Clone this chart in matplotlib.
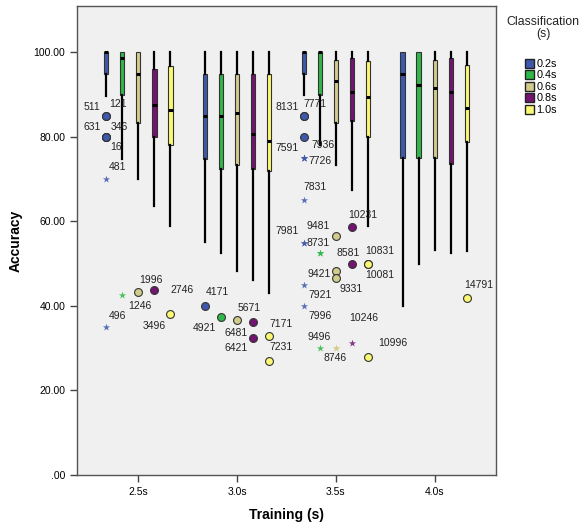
import numpy as np
import matplotlib.pyplot as plt
from matplotlib.patches import Patch

# categories
trainings = ['2.5s', '3.0s', '3.5s', '4.0s']
classes = ['0.2s', '0.4s', '0.6s', '0.8s', '1.0s']
colors = ['#3e58ac', '#2eb848', '#d2cc8c', '#741472', '#fbf873']

# box statistics, one list per class (one value per training group)
whishi = {
    '0.2s': [100, 100, 100, 100],
    '0.4s': [100, 100, 100, 100],
    '0.6s': [100, 100, 100, 100],
    '0.8s': [100, 100, 100, 100],
    '1.0s': [100, 100, 100, 100],
}
q3 = {
    '0.2s': [100, 95, 100, 100],
    '0.4s': [100, 95, 100, 100],
    '0.6s': [100, 95, 98.3, 98.3],
    '0.8s': [96.1, 95, 98.7, 98.7],
    '1.0s': [96.9, 95, 97.9, 97.0],
}
med = {
    '0.2s': [100, 84.9, 100, 95],
    '0.4s': [98.7, 84.9, 100, 92.4],
    '0.6s': [95, 85.7, 93.3, 91.7],
    '0.8s': [87.5, 80.6, 90.6, 90.6],
    '1.0s': [86.5, 79.0, 89.4, 86.9],
}
q1 = {
    '0.2s': [94.8, 74.9, 95, 75],
    '0.4s': [90, 72.5, 89.9, 75],
    '0.6s': [83.2, 73.3, 83.2, 75],
    '0.8s': [80, 72.5, 83.7, 73.7],
    '1.0s': [78, 71.9, 80.1, 78.9],
}
whislo = {
    '0.2s': [89.8, 55.1, 89.9, 40],
    '0.4s': [74.9, 52.5, 78.1, 50],
    '0.6s': [70, 48.3, 73.4, 53.3],
    '0.8s': [63.7, 46.1, 67.4, 52.5],
    '1.0s': [58.9, 43.0, 58.9, 53],
}

# outliers: group index, class index, value, case label, marker
out_group = [0, 0, 0, 0, 0, 0, 0, 0, 0, 0, 0,
             1, 1, 1, 1, 1, 1, 1,
             2, 2, 2, 2, 2, 2, 2, 2, 2, 2, 2, 2, 2, 2, 2, 2, 2, 2, 2, 2, 2, 2, 2, 2, 2,
             3]
out_class = [0, 0, 0, 0, 0, 0, 0, 1, 2, 3, 4,
             0, 1, 2, 3, 3, 4, 4,
             0, 0, 0, 0, 0, 0, 0, 0, 0, 0, 1, 1, 2, 2, 2, 2, 3, 3, 3, 4, 4, 4, 0, 1, 2,
             4]
out_value = [85.0, 85.0, 80.1, 80.1, 80.1, 70, 35, 42.5, 43.4, 43.7, 38,
             40, 37.5, 36.7, 36.3, 32.5, 33, 27,
             85, 85, 80.1, 75, 75, 65, 55, 55, 45, 40, 52.5, 30, 56.6, 48.3, 46.6, 30,
             58.8, 50, 31.2, 50, 50, 28, 75, 52.5, 30,
             42]
out_label = ['511', '121', '631', '346', '16', '481', '496', '1246', '1996', '2746', '3496',
             '4171', '4921', '6481', '5671', '6421', '7171', '7231',
             '8131', '7771', '7591', '7726', '7936', '7831', '7981', '8731', '7921', '7996',
             '', '9496', '9481', '9421', '9331', '8746', '10231', '8581', '10246',
             '10831', '10081', '10996', '', '', '',
             '14791']
out_marker = ['o', 'o', 'o', 'o', 'o', '*', '*', '*', 'o', 'o', 'o',
              'o', 'o', 'o', 'o', 'o', 'o', 'o',
              'o', 'o', 'o', '*', '*', '*', '*', '*', '*', '*',
              '*', '*', 'o', 'o', 'o', '*', 'o', 'o', '*',
              'o', 'o', 'o', '*', '*', '*',
              'o']
# label offsets in pixels (x right, y down)
lab_off = [(-14, -9), (12, -12), (-14, -10), (13, -10), (10, 10), (11, -12), (11, -11),
           (18, 11), (13, -12), (28, 0), (-16, 12),
           (12, -14), (-17, 11), (-1, 13), (-4, -14), (-17, 10), (12, -12), (12, -14),
           (-17, -9), (11, -12), (-17, 11), (16, 3), (19, -13), (11, -13), (-17, -12),
           (14, 0), (16, 10), (16, 10),
           (0, 0), (-1, -11), (-18, -10), (-17, 3), (15, 11), (-1, 10), (11, -12),
           (-4, -11), (12, -25), (12, -13), (12, 11), (25, -14), (0, 0), (0, 0), (0, 0),
           (12, -13)]

step = 0.162
fig = plt.figure(figsize=(5.87, 5.29), dpi=100)
ax = fig.add_axes([77 / 587, 1 - 475 / 529, (496 - 77) / 587, (475 - 6) / 529])
ax.set_facecolor('#f0f0f0')

for k, c in enumerate(classes):
    stats = []
    for g in range(len(trainings)):
        stats.append(dict(whislo=whislo[c][g], q1=q1[c][g], med=med[c][g],
                          q3=q3[c][g], whishi=whishi[c][g], fliers=[]))
    pos = np.arange(len(trainings)) + (k - 2) * step
    ax.bxp(stats, positions=pos, widths=0.045, patch_artist=True,
           showcaps=False, showfliers=False, manage_ticks=False,
           boxprops=dict(facecolor=colors[k], edgecolor='#333333', linewidth=0.8),
           whiskerprops=dict(color='black', linewidth=1.6),
           medianprops=dict(color='black', linewidth=2.2, solid_capstyle='butt'))

for i in range(len(out_value)):
    x = out_group[i] + (out_class[i] - 2) * step
    col = colors[out_class[i]]
    if out_marker[i] == 'o':
        ax.scatter(x, out_value[i], s=32, marker='o', facecolor=col,
                   edgecolor='#333333', linewidth=0.8, zorder=4)
    else:
        ax.scatter(x, out_value[i], s=30, marker='*', color=col,
                   linewidth=0, zorder=4, alpha=0.85)
    if out_label[i]:
        dx, dy = lab_off[i]
        ax.annotate(out_label[i], (x, out_value[i]), xytext=(dx, -dy),
                    textcoords='offset pixels', ha='center', va='center',
                    fontsize=7.5, color='#222222', family='Liberation Sans')

ax.set_xlim(-0.62, 3.62)
ax.set_ylim(0, 111)
ax.set_xticks(range(len(trainings)))
ax.set_xticklabels(trainings)
ax.set_yticks([0, 20, 40, 60, 80, 100])
ax.set_yticklabels(['.00', '20.00', '40.00', '60.00', '80.00', '100.00'])
ax.tick_params(labelsize=7.5, length=5, width=1, color='#444444')
for t in ax.get_xticklabels() + ax.get_yticklabels():
    t.set_family('Liberation Sans')
for s in ax.spines.values():
    s.set_color('#555555')
    s.set_linewidth(1)

ax.set_xlabel('Training (s)', fontsize=10, fontweight='bold', family='Liberation Sans', labelpad=8)
ax.set_ylabel('Accuracy', fontsize=10, fontweight='bold', family='Liberation Sans', labelpad=8)

# legend: title drawn as its own text so the gap matches
fig.text(543 / 587, 1 - 28 / 529, 'Classification\n(s)', ha='center', va='center',
         fontsize=8.8, family='Liberation Sans', linespacing=1.0, color='#222222')
handles = [Patch(facecolor=colors[k], edgecolor='#222222', label=classes[k])
           for k in range(len(classes))]
fig.legend(handles=handles, loc='upper left',
           bbox_to_anchor=(517 / 587, 1 - 51 / 529), frameon=False,
           handlelength=0.9, handleheight=0.9, handletextpad=0.2,
           labelspacing=0.12, borderpad=0.2,
           prop={'family': 'Liberation Sans', 'size': 7.8})

fig.savefig('out.png', dpi=100)
